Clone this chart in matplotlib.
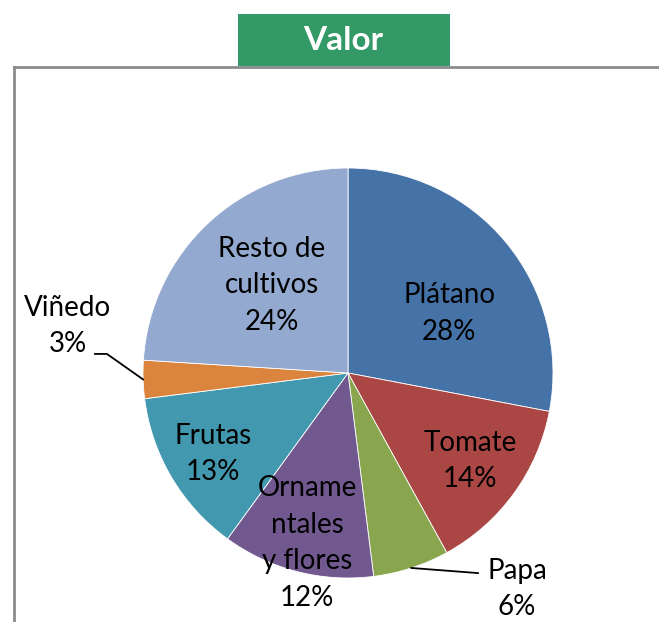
import numpy as np
import matplotlib.pyplot as plt
from matplotlib.lines import Line2D
from matplotlib.patches import Rectangle

# datos del gráfico
cultivos = ['Plátano', 'Tomate', 'Papa', 'Ornamentales y flores', 'Frutas', 'Viñedo', 'Resto de cultivos']
etiquetas = ['Plátano\n28%', 'Tomate\n14%', 'Papa\n6%', 'Orname\nntales\ny flores\n12%',
             'Frutas\n13%', 'Viñedo\n3%', 'Resto de\ncultivos\n24%']
valores = [28, 14, 6, 12, 13, 3, 24]
colores = ['#4572A7', '#AA4643', '#89A54E', '#71588F', '#4198AF', '#DB843D', '#93A9CF']

# posiciones de las etiquetas (coordenadas del pie, radio 1)
pos_etq = [(0.493, 0.29), (0.595, -0.429), (0.824, -1.054), (-0.20, -0.83),
           (-0.659, -0.395), (-1.366, 0.229), (-0.371, 0.429)]

W, H = 659, 622
plt.rcParams['font.family'] = ['Lato', 'DejaVu Sans']
fig = plt.figure(figsize=(W / 100, H / 100), dpi=100)

# marco gris
fig.add_artist(Line2D([14 / W, 14 / W], [0, 1 - 67 / H], color='#8c8c8c', lw=2))
fig.add_artist(Line2D([14 / W, 1], [1 - 67 / H, 1 - 67 / H], color='#8c8c8c', lw=2))

# titulo
fig.add_artist(Rectangle((238 / W, 1 - 66 / H), 212 / W, 52 / H, transform=fig.transFigure,
                         facecolor='#339966', edgecolor='none'))
fig.text(343 / W, 1 - 41 / H, 'Valor', color='white', fontsize=24, fontweight='bold',
         ha='center', va='center')

# pie: centro (348, 373) px, radio 205 px
cx, cy, R = 348, 373, 205
ax = fig.add_axes([(cx - R) / W, (H - cy - R) / H, 2 * R / W, 2 * R / H])
wedges, _ = ax.pie(valores, colors=colores, startangle=90, counterclock=False,
                   wedgeprops=dict(edgecolor='white', linewidth=0.6))
ax.set_xlim(-1, 1)
ax.set_ylim(-1, 1)
ax.axis('off')

for w, txt, (x, y) in zip(wedges, etiquetas, pos_etq):
    ax.text(x, y, txt, ha='center', va='center', fontsize=20, linespacing=1.5,
            color='black', clip_on=False)

# lineas guía para Papa y Viñedo
def punto_medio(w):
    ang = np.deg2rad((w.theta1 + w.theta2) / 2)
    return np.cos(ang), np.sin(ang)

x0, y0 = punto_medio(wedges[2])
ax.plot([x0, 0.634], [y0, -0.976], color='black', lw=1.3, clip_on=False)
x0, y0 = punto_medio(wedges[5])
ax.plot([x0, -1.176, -1.234], [y0, 0.093, 0.093], color='black', lw=1.3, clip_on=False)

fig.savefig('out.png', dpi=100)
